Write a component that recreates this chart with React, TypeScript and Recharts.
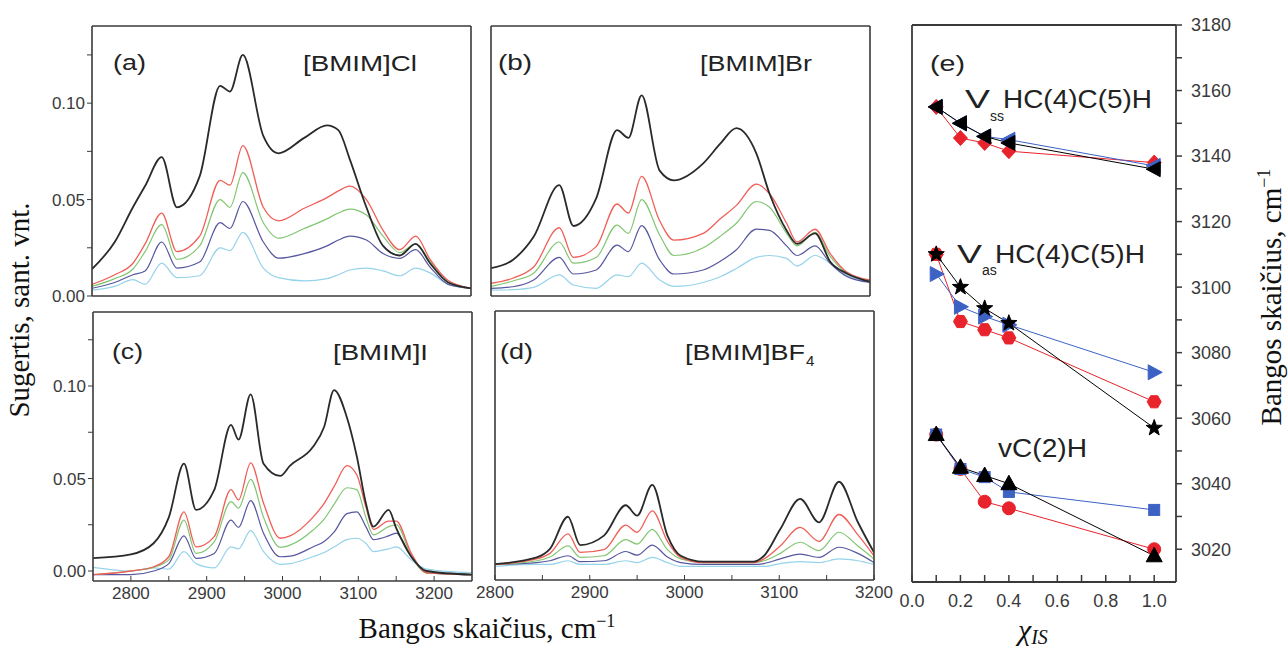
import React from 'react';
import { LineChart, Line, XAxis, YAxis } from 'recharts';

// ---------- spectra: wavenumber grids and absorbance per mole fraction ----------
// (a) [BMIM]Cl
const gridA = [2750, 2780, 2804, 2820, 2842, 2862, 2892, 2919, 2932, 2949, 2976, 2996, 3030, 3060, 3075, 3090, 3112, 3134, 3156, 3177, 3196, 3220, 3250];
const aBlack = [0.014, 0.028, 0.046, 0.057, 0.072, 0.046, 0.062, 0.109, 0.106, 0.125, 0.083, 0.074, 0.082, 0.0885, 0.086, 0.071, 0.046, 0.026, 0.021, 0.027, 0.017, 0.007, 0.004];
const aRed = [0.006, 0.011, 0.017, 0.027, 0.043, 0.023, 0.031, 0.06, 0.0575, 0.078, 0.046, 0.039, 0.0455, 0.051, 0.0545, 0.057, 0.05, 0.034, 0.024, 0.031, 0.019, 0.008, 0.004];
const aGreen = [0.005, 0.009, 0.014, 0.023, 0.037, 0.019, 0.026, 0.05, 0.046, 0.064, 0.038, 0.03, 0.035, 0.04, 0.043, 0.045, 0.042, 0.031, 0.0225, 0.027, 0.018, 0.007, 0.004];
const aBlue = [0.004, 0.007, 0.011, 0.013, 0.028, 0.0145, 0.0176, 0.038, 0.035, 0.049, 0.028, 0.0196, 0.022, 0.026, 0.029, 0.031, 0.029, 0.022, 0.0195, 0.024, 0.015, 0.006, 0.004];
const aCyan = [0.003, 0.005, 0.0085, 0.006, 0.017, 0.0095, 0.0105, 0.025, 0.0235, 0.033, 0.0145, 0.0095, 0.0078, 0.009, 0.011, 0.0135, 0.0145, 0.013, 0.0105, 0.0145, 0.012, 0.006, 0.004];

// (b) [BMIM]Br
const gridB = [2800, 2823, 2845, 2872, 2887, 2911, 2933, 2945, 2959, 2978, 2993, 3024, 3042, 3059, 3080, 3094, 3112, 3123, 3142, 3158, 3175, 3200];
const bBlack = [0.0144, 0.0187, 0.0307, 0.0575, 0.0363, 0.0506, 0.086, 0.082, 0.104, 0.065, 0.06, 0.0688, 0.079, 0.087, 0.074, 0.053, 0.034, 0.027, 0.0325, 0.0178, 0.0118, 0.0074];
const bRed = [0.0066, 0.0092, 0.015, 0.0354, 0.02, 0.0256, 0.0477, 0.043, 0.062, 0.039, 0.029, 0.0325, 0.04, 0.047, 0.058, 0.053, 0.0377, 0.028, 0.0346, 0.022, 0.0126, 0.0083];
const bGreen = [0.005, 0.0078, 0.0118, 0.028, 0.017, 0.02, 0.0368, 0.0325, 0.05, 0.0316, 0.021, 0.025, 0.031, 0.0377, 0.049, 0.046, 0.0325, 0.026, 0.033, 0.0205, 0.012, 0.008];
const bBlue = [0.004, 0.0048, 0.0083, 0.02, 0.0114, 0.0135, 0.0264, 0.023, 0.0365, 0.0187, 0.0114, 0.0135, 0.018, 0.024, 0.0347, 0.034, 0.026, 0.021, 0.026, 0.017, 0.0103, 0.007];
const bCyan = [0.003, 0.0033, 0.0045, 0.011, 0.0057, 0.004, 0.011, 0.01, 0.017, 0.0083, 0.005, 0.007, 0.01, 0.0143, 0.02, 0.021, 0.0195, 0.0155, 0.021, 0.017, 0.011, 0.007];

// (c) [BMIM]I
const gridC = [2750, 2800, 2830, 2850, 2870, 2886, 2910, 2932, 2942, 2958, 2975, 2997, 3010, 3040, 3055, 3068, 3085, 3098, 3110, 3120, 3140, 3150, 3170, 3190, 3250];
const cBlack = [0.007, 0.009, 0.015, 0.029, 0.058, 0.033, 0.0438, 0.079, 0.071, 0.0955, 0.058, 0.0514, 0.057, 0.067, 0.078, 0.0978, 0.083, 0.062, 0.0366, 0.024, 0.033, 0.0232, 0.0077, 0, -0.002];
const cRed = [-0.002, 0, 0.0023, 0.0077, 0.032, 0.013, 0.0186, 0.044, 0.0384, 0.0585, 0.0366, 0.0177, 0.019, 0.029, 0.0366, 0.0456, 0.057, 0.052, 0.0347, 0.0225, 0.027, 0.027, 0.0095, -0.001, -0.002];
const cGreen = [-0.002, 0, 0.002, 0.006, 0.0275, 0.0095, 0.0158, 0.0375, 0.034, 0.0495, 0.029, 0.0128, 0.014, 0.022, 0.028, 0.036, 0.045, 0.044, 0.029, 0.0195, 0.024, 0.025, 0.008, -0.001, -0.002];
const cBlue = [-0.002, -0.002, 0, 0.004, 0.019, 0.0068, 0.0095, 0.0275, 0.0236, 0.038, 0.0204, 0.0077, 0.008, 0.013, 0.016, 0.021, 0.031, 0.032, 0.024, 0.017, 0.019, 0.0205, 0.0075, -0.001, -0.002];
const cCyan = [0.002, 0, 0.0017, 0.001, 0.0105, 0.004, 0.0017, 0.013, 0.012, 0.0218, 0.0105, 0.0036, 0.004, 0.0077, 0.01, 0.013, 0.017, 0.0177, 0.015, 0.0105, 0.012, 0.013, 0.006, 0.001, -0.001];

// (d) [BMIM]BF4
const gridD = [2800, 2844, 2858, 2877, 2890, 2915, 2938, 2950, 2966, 2982, 2996, 3020, 3073, 3084, 3101, 3122, 3142, 3163, 3183, 3200];
const dBlack = [0.0032, 0.0068, 0.0114, 0.0288, 0.0135, 0.0186, 0.035, 0.0294, 0.046, 0.0186, 0.0077, 0.0045, 0.0045, 0.0077, 0.022, 0.0384, 0.0258, 0.0477, 0.0258, 0.0095];
const dRed = [0.003, 0.006, 0.009, 0.0195, 0.0095, 0.011, 0.0243, 0.0204, 0.032, 0.0155, 0.0068, 0.004, 0.004, 0.006, 0.013, 0.023, 0.0155, 0.03, 0.019, 0.0077];
const dGreen = [0.003, 0.005, 0.007, 0.013, 0.0068, 0.0077, 0.0164, 0.014, 0.022, 0.011, 0.006, 0.004, 0.004, 0.005, 0.009, 0.015, 0.0105, 0.0204, 0.013, 0.006];
const dBlue = [0.003, 0.004, 0.005, 0.0077, 0.0045, 0.005, 0.01, 0.008, 0.0135, 0.007, 0.004, 0.003, 0.003, 0.0035, 0.006, 0.0086, 0.0068, 0.0123, 0.009, 0.004];
const dCyan = [0.002, 0.003, 0.003, 0.005, 0.003, 0.003, 0.005, 0.004, 0.0068, 0.004, 0.002, 0.002, 0.002, 0.002, 0.0035, 0.0045, 0.004, 0.006, 0.005, 0.003];

// tick values
const xTicks = [2800, 2850, 2900, 2950, 3000, 3050, 3100, 3150, 3200];
const xLabelVals = [2800, 2900, 3000, 3100, 3200];
const yTicksAC = [0, 0.025, 0.05, 0.075, 0.1, 0.125];
const yTicksB = [0.012, 0.0345, 0.057, 0.0795, 0.102, 0.1245];
const yTicksD = [0, 0.02, 0.04, 0.06, 0.08, 0.1, 0.12];

// ---------- (e) peak positions vs mole fraction ----------
const xis = [0.1, 0.2, 0.3, 0.4, 1.0];
const ssRed = [3155, 3145.5, 3144, 3141.5, 3138];
const ssBlue = [3155, 3150, 3146, 3145, 3137];
const ssBlack = [3155, 3150, 3146, 3144, 3136];
const asRed = [3110, 3089.5, 3087, 3084.5, 3065];
const asBlue = [3104, 3094, 3091, 3088.5, 3074];
const asBlack = [3110, 3100, 3093.5, 3089, 3057];
const chRed = [3055, 3044.5, 3034.5, 3032.5, 3020];
const chBlue = [3055, 3044.5, 3042, 3037.5, 3032];
const chBlack = [3055, 3045, 3042.5, 3040, 3018];
const eXTicks = [0, 0.1, 0.2, 0.3, 0.4, 0.5, 0.6, 0.7, 0.8, 0.9, 1.0];
const eYTicks = [3020, 3030, 3040, 3050, 3060, 3070, 3080, 3090, 3100, 3110, 3120, 3130, 3140, 3150, 3160, 3170, 3180];

const SANS = "'Liberation Sans', Arial, Helvetica, sans-serif";
const SERIF = "'Liberation Serif', 'Times New Roman', serif";
const AX = '#3a3a3a';
const tickFont = { fontSize: 17, fill: '#3a3a3a', fontFamily: SANS };

const spectraColors = [
  { key: 'cyan', color: '#96d3ea', w: 1.2 },
  { key: 'blue', color: '#56579f', w: 1.2 },
  { key: 'green', color: '#82c672', w: 1.2 },
  { key: 'red', color: '#ef5f58', w: 1.3 },
  { key: 'black', color: '#2a2a2a', w: 1.8 },
];

type PanelProps = {
  left: number; top: number; w: number; h: number;
  grid: number[]; values: Record<string, number[]>;
  xDomain: [number, number]; yDomain: [number, number];
  yTicks: number[];
  showX: boolean; showY: boolean;
};

const Spectrum = ({ left, top, w, h, grid, values, xDomain, yDomain, yTicks, showX, showY }: PanelProps) => {
  const rows = grid.map((x, i) => {
    const r: Record<string, number> = { x };
    Object.keys(values).forEach((k) => { r[k] = values[k][i]; });
    return r;
  });
  const yW = 60;
  const xH = 30;
  const mT = 4;
  const mR = 30;
  const axis = { stroke: AX, strokeWidth: 1.6 };
  return (
    <div style={{ position: 'absolute', left: left - yW, top: top - mT - 1 }}>
      <LineChart width={yW + w + 1 + mR} height={mT + 1 + h + xH} data={rows} margin={{ top: mT, right: mR, bottom: 0, left: 0 }}>
        <XAxis xAxisId="b" dataKey="x" type="number" domain={xDomain} ticks={xTicks} allowDataOverflow interval={0}
          height={xH} axisLine={axis} tickLine={{ stroke: AX }} tickSize={-5} tickMargin={11}
          tick={showX ? tickFont : false}
          tickFormatter={(v: number) => (xLabelVals.includes(v) ? String(v) : '')} />
        <XAxis xAxisId="t" orientation="top" dataKey="x" type="number" domain={xDomain} ticks={xTicks} allowDataOverflow
          interval={0} height={1} axisLine={axis} tickLine={{ stroke: AX }} tickSize={-5} tick={false} />
        <YAxis yAxisId="l" type="number" domain={yDomain} ticks={yTicks} allowDataOverflow interval={0}
          width={yW} axisLine={axis} tickLine={{ stroke: AX }} tickSize={5} tickMargin={2}
          tick={showY ? tickFont : false}
          tickFormatter={(v: number) => (Math.round(v * 1000) % 50 === 0 ? v.toFixed(2) : '')} />
        <YAxis yAxisId="r" orientation="right" type="number" domain={yDomain} ticks={yTicks} allowDataOverflow
          interval={0} width={1} axisLine={axis} tickLine={{ stroke: AX }} tickSize={-5} tick={false} />
        {spectraColors.map((s) => (
          <Line key={s.key} xAxisId="b" yAxisId="l" type="monotone" dataKey={s.key} stroke={s.color}
            strokeWidth={s.w} dot={false} activeDot={false} isAnimationActive={false} />
        ))}
      </LineChart>
    </div>
  );
};

// ---------- markers for (e) ----------
const Marker = ({ shape, cx, cy, fill }: { shape: string; cx: number; cy: number; fill: string }) => {
  const st = { fill, stroke: fill, strokeWidth: 1 };
  switch (shape) {
    case 'diamond':
      return <polygon points={`${cx},${cy - 7.5} ${cx + 7},${cy} ${cx},${cy + 7.5} ${cx - 7},${cy}`} {...st} />;
    case 'left':
      return <polygon points={`${cx - 8},${cy} ${cx + 6},${cy - 7.5} ${cx + 6},${cy + 7.5}`} {...st} />;
    case 'right':
      return <polygon points={`${cx + 8},${cy} ${cx - 6},${cy - 7.5} ${cx - 6},${cy + 7.5}`} {...st} />;
    case 'up':
      return <polygon points={`${cx},${cy - 8.5} ${cx - 8},${cy + 6} ${cx + 8},${cy + 6}`} {...st} />;
    case 'square':
      return <rect x={cx - 5.5} y={cy - 5.5} width={11} height={11} {...st} />;
    case 'circle':
      return <circle cx={cx} cy={cy} r={6.5} {...st} />;
    case 'hex': {
      const pts = [0, 1, 2, 3, 4, 5].map((k) => {
        const a = (Math.PI / 3) * k;
        return `${cx + 7 * Math.cos(a)},${cy + 7 * Math.sin(a)}`;
      });
      return <polygon points={pts.join(' ')} {...st} />;
    }
    case 'star': {
      const pts: string[] = [];
      for (let k = 0; k < 10; k++) {
        const r = k % 2 === 0 ? 8.5 : 3.5;
        const a = -Math.PI / 2 + (Math.PI / 5) * k;
        pts.push(`${cx + r * Math.cos(a)},${cy + r * Math.sin(a)}`);
      }
      return <polygon points={pts.join(' ')} {...st} />;
    }
    default:
      return <circle cx={cx} cy={cy} r={6} {...st} />;
  }
};

const dotOf = (shape: string, fill: string, id: string) => (p: any) => (
  p.cx == null || p.cy == null
    ? <g key={`${id}-${p.index}`} />
    : <Marker key={`${id}-${p.index}`} shape={shape} cx={p.cx} cy={p.cy} fill={fill} />
);

const RED = '#e8232b';
const BLUE = '#3c62c4';
const BLK = '#000000';

const eSeries = [
  { key: 'ssRed', vals: ssRed, color: RED, shape: 'diamond' },
  { key: 'ssBlue', vals: ssBlue, color: BLUE, shape: 'left' },
  { key: 'ssBlack', vals: ssBlack, color: BLK, shape: 'left' },
  { key: 'asRed', vals: asRed, color: RED, shape: 'hex' },
  { key: 'asBlue', vals: asBlue, color: BLUE, shape: 'right' },
  { key: 'asBlack', vals: asBlack, color: BLK, shape: 'star' },
  { key: 'chRed', vals: chRed, color: RED, shape: 'circle' },
  { key: 'chBlue', vals: chBlue, color: BLUE, shape: 'square' },
  { key: 'chBlack', vals: chBlack, color: BLK, shape: 'up' },
];

const PanelE = () => {
  const rows = xis.map((x, i) => {
    const r: Record<string, number> = { x };
    eSeries.forEach((s) => { r[s.key] = s.vals[i]; });
    return r;
  });
  const left = 912, top = 25, w = 264, h = 557;
  const mL = 20, mT = 14;
  const axis = { stroke: AX, strokeWidth: 1.8 };
  return (
    <div style={{ position: 'absolute', left: left - mL - 1, top: top - mT - 1 }}>
      <LineChart width={mL + 1 + w + 70} height={mT + 1 + h + 32} data={rows} margin={{ top: mT, right: 0, bottom: 0, left: mL }}>
        <XAxis xAxisId="b" dataKey="x" type="number" domain={[0, 1.09]} ticks={eXTicks} allowDataOverflow interval={0}
          height={32} axisLine={axis} tickLine={{ stroke: AX, strokeWidth: 1.5 }} tickSize={-7} tickMargin={19}
          tick={{ fontSize: 18, fill: '#3a3a3a', fontFamily: SANS }}
          tickFormatter={(v: number) => (Math.round(v * 10) % 2 === 0 ? v.toFixed(1) : '')} />
        <XAxis xAxisId="t" orientation="top" dataKey="x" type="number" domain={[0, 1.09]} allowDataOverflow
          height={1} axisLine={axis} tickLine={false} tick={false} />
        <YAxis yAxisId="l" type="number" domain={[3010, 3180]} ticks={eYTicks} allowDataOverflow interval={0}
          width={1} axisLine={axis} tickLine={{ stroke: AX, strokeWidth: 1.5 }} tickSize={-8} tick={false} />
        <YAxis yAxisId="r" orientation="right" type="number" domain={[3010, 3180]} ticks={eYTicks} allowDataOverflow
          interval={0} width={70} axisLine={axis} tickLine={{ stroke: AX, strokeWidth: 1.5 }} tickSize={6} tickMargin={9}
          tick={{ fontSize: 18, fill: '#3a3a3a', fontFamily: SANS, textAnchor: 'start' }}
          tickFormatter={(v: number) => (v % 20 === 0 ? String(v) : '')} />
        {eSeries.map((s) => (
          <Line key={s.key} xAxisId="b" yAxisId="l" type="linear" dataKey={s.key} stroke={s.color} strokeWidth={1}
            dot={dotOf(s.shape, s.color, s.key)} activeDot={false} isAnimationActive={false} />
        ))}
      </LineChart>
    </div>
  );
};

const Label = ({ x, y, w, size = 22, children }: { x: number; y: number; w: number; size?: number; children: React.ReactNode }) => (
  <text x={x} y={y} fontSize={size} fontFamily={SANS} fill="#222" textLength={w} lengthAdjust="spacingAndGlyphs">{children}</text>
);

export default function App() {
  return (
    <div style={{ position: 'absolute', left: 0, top: 0, width: 1288, height: 652, background: '#fff', overflow: 'hidden' }}>
      <Spectrum left={92} top={26} w={379} h={270} grid={gridA}
        values={{ cyan: aCyan, blue: aBlue, green: aGreen, red: aRed, black: aBlack }}
        xDomain={[2750, 3250]} yDomain={[0, 0.14]} yTicks={yTicksAC} showX={false} showY />
      <Spectrum left={491} top={26} w={379} h={270} grid={gridB}
        values={{ cyan: bCyan, blue: bBlue, green: bGreen, red: bRed, black: bBlack }}
        xDomain={[2800, 3200]} yDomain={[0, 0.14]} yTicks={yTicksB} showX={false} showY={false} />
      <Spectrum left={93} top={312} w={379} h={269} grid={gridC}
        values={{ cyan: cCyan, blue: cBlue, green: cGreen, red: cRed, black: cBlack }}
        xDomain={[2750, 3250]} yDomain={[-0.0054, 0.14]} yTicks={yTicksAC} showX showY />
      <Spectrum left={495} top={311} w={379} h={269} grid={gridD}
        values={{ cyan: dCyan, blue: dBlue, green: dGreen, red: dRed, black: dBlack }}
        xDomain={[2800, 3200]} yDomain={[-0.0054, 0.14]} yTicks={yTicksD} showX showY={false} />
      <PanelE />

      <svg width={1288} height={652} style={{ position: 'absolute', left: 0, top: 0, pointerEvents: 'none' }}>
        <Label x={113} y={70} w={33}>(a)</Label>
        <Label x={303} y={71} w={114}>[BMIM]Cl</Label>
        <Label x={498} y={70} w={34}>(b)</Label>
        <Label x={700} y={71} w={112}>[BMIM]Br</Label>
        <Label x={112} y={359} w={31}>(c)</Label>
        <Label x={333} y={360} w={95}>[BMIM]I</Label>
        <Label x={500} y={359} w={33}>(d)</Label>
        <Label x={685} y={360} w={120}>[BMIM]BF</Label>
        <text x={806} y={366} fontSize={15} fontFamily={SANS} fill="#222">4</text>

        <Label x={930} y={71} w={35}>(e)</Label>
        <Label x={965} y={108} w={25} size={25}>V</Label>
        <text x={990} y={121} fontSize={14} fontFamily={SANS} fill="#222">ss</text>
        <Label x={1003} y={108} w={149} size={25}>HC(4)C(5)H</Label>
        <Label x={957} y={263} w={25} size={25}>V</Label>
        <text x={982} y={275} fontSize={14} fontFamily={SANS} fill="#222">as</text>
        <Label x={995} y={263} w={150} size={25}>HC(4)C(5)H</Label>
        <Label x={998} y={457} w={89} size={25}>vC(2)H</Label>

        <text transform="translate(29,310) rotate(-90)" textAnchor="middle" fontSize={29} fontFamily={SERIF} fill="#111">
          Sugertis, sant. vnt.
        </text>
        <text x={487} y={638} textAnchor="middle" fontSize={29} fontFamily={SERIF} fill="#111">
          Bangos skaičius, cm<tspan dy={-11} fontSize={18}>−1</tspan>
        </text>
        <text transform="translate(1281,297) rotate(-90)" textAnchor="middle" fontSize={29} fontFamily={SERIF} fill="#111">
          Bangos skaičius, cm<tspan dy={-11} fontSize={18}>−1</tspan>
        </text>
        <text x={1018} y={640} fontSize={30} fontFamily={SERIF} fontStyle="italic" fill="#111">
          χ<tspan dy={4} fontSize={20}>IS</tspan>
        </text>
      </svg>
    </div>
  );
}
